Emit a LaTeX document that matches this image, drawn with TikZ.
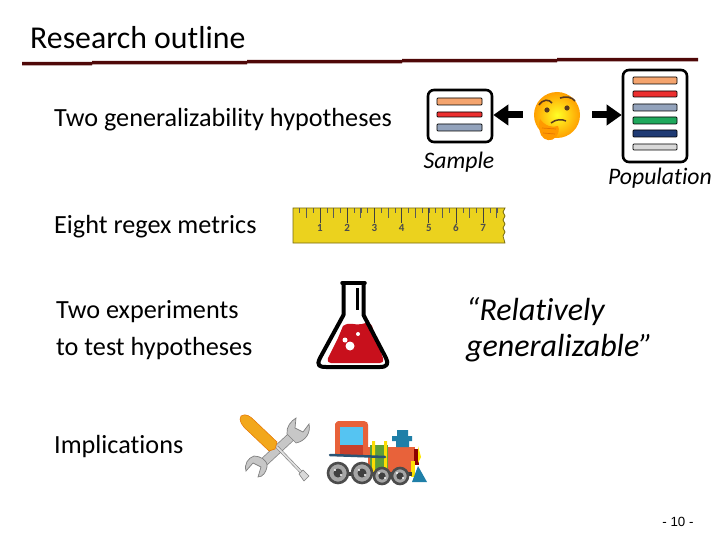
\documentclass[tikz,border=0pt]{standalone}
\usepackage{fontspec}
\setmainfont{Carlito}[Ligatures=CommonOff]
\newfontfamily\pagefont{Liberation Sans}
\usepackage{xcolor}
\usetikzlibrary{calc}
\usetikzlibrary{arrows.meta}
\definecolor{rulered}{HTML}{4F0808}
\definecolor{barorange}{HTML}{F4A46E}
\definecolor{barred}{HTML}{EC2F2F}
\definecolor{bargrey}{HTML}{93A3BC}
\definecolor{bargreen}{HTML}{1FA85C}
\definecolor{barblue}{HTML}{1F3A73}
\definecolor{barlight}{HTML}{D9D9D9}
\definecolor{rulergold}{HTML}{EBD21E}
\definecolor{flaskred}{HTML}{C8101C}
\definecolor{trainred}{HTML}{E8623A}
\definecolor{traindark}{HTML}{C9402C}
\definecolor{trainglass}{HTML}{55C4F2}
\definecolor{traingreen}{HTML}{5E9E3C}
\definecolor{trainteal}{HTML}{1F7FA8}
\definecolor{trainpipe}{HTML}{2A5474}
\definecolor{handleyellow}{HTML}{F2A71B}
\definecolor{facebrown}{HTML}{5A3A1E}
\tikzset{
	outline/.style={anchor=west,inner sep=0pt,font=\fontsize{26.2}{26}\selectfont},
	quoted/.style={anchor=west,inner sep=0pt,font=\itshape\fontsize{32}{32}\selectfont},
	caption/.style={inner sep=0pt,font=\itshape\fontsize{23.7}{24}\selectfont},
	listbox/.style={draw,line width=2.6pt,rounded corners=6pt,fill=white},
	listbar/.style={draw=black,line width=0.7pt,rounded corners=0.8pt},
	fatarrow/.style={-{Triangle[length=15pt,width=20pt]},line width=7pt},
	rulerdigit/.style={inner sep=0pt,font=\bfseries\fontsize{11}{11}\selectfont,text=black!70},
}
\begin{document}
\begin{tikzpicture}[x=1pt,y=-1pt]
	\useasboundingbox (0,0) rectangle (720,540);
	\node[anchor=west,inner sep=0pt,font=\fontsize{31.8}{32}\selectfont] (title) at (30,38) {Research outline};
	\fill[rulered] (22,62) -- (92,62) -- (92,61) -- (247,61) -- (247,60) -- (402,60) -- (402,59) -- (557,59) -- (557,58) -- (698,58) -- (698,61.5) -- (557,61.5) -- (557,62.5) -- (402,62.5) -- (402,63.5) -- (247,63.5) -- (247,64.5) -- (92,64.5) -- (92,65.5) -- (22,65.5) -- cycle;
	\node[outline] (hypotheses) at (54,119.5) {Two generalizability hypotheses};
	\node[outline] (metrics) at (54,226.5) {Eight regex metrics};
	\node[outline] (experiments) at (56,311.5) {Two experiments};
	\node[outline] (totest) at (56,348.5) {to test hypotheses};
	\node[outline] (implications) at (54,446.5) {Implications};
	\node[quoted] (relatively) at (466,311.5) {“Relatively};
	\node[quoted] (generalizable) at (466,348.5) {generalizable”};
	\node[caption] (sample) at (459,162) {Sample};
	\node[caption] (population) at (660,178) {Population};
	\node[inner sep=0pt,font=\pagefont\fontsize{13.3}{13}\selectfont] (pagenum) at (678,522) {- 10 -};
	\node[listbox,minimum width=64pt,minimum height=52pt] (samplebox) at (460,116) {};
	\node[listbox,minimum width=64pt,minimum height=92pt] (populationbox) at (655,116) {};
	\node[minimum width=69pt,minimum height=50pt,inner sep=0pt] (thinking) at (557.5,115) {};
	\draw[fatarrow] (thinking.west) -- (thinking.west -| samplebox.east);
	\draw[fatarrow] (thinking.east) -- (thinking.east -| populationbox.west);
	\foreach \ya/\yb/\col in {98/105/barorange,112/117/barred,124/131/bargrey}
		\draw[listbar,fill=\col] (437,\ya) rectangle (482,\yb);
	\foreach \ya/\yb/\col in {77/84/barorange,91/97/barred,104/111/bargrey,117/124/bargreen,130/137/barblue,144/150/barlight}
		\draw[listbar,fill=\col] (633,\ya) rectangle (677,\yb);
	% thinking face
	\shade[inner color=yellow!85!white,outer color=orange!75!yellow] (557,115) circle[radius=23pt];
	\draw[line width=1.6pt,facebrown] (539,105) .. controls (543,99) and (549,99) .. (552,103);
	\draw[line width=1.6pt,facebrown] (560,98) .. controls (566,96) and (572,97) .. (575,101);
	\fill[facebrown] (547,110) circle[radius=2.6pt] (567,108) circle[radius=2.6pt];
	\draw[line width=1.5pt,facebrown] (551,123) .. controls (556,119) and (562,119) .. (566,121);
	\fill[orange!80!yellow] (540,119) .. controls (545,126) and (552,128) .. (558,126) .. controls (560,130) and (558,134) .. (556,137) .. controls (552,142) and (544,141) .. (541,135) .. controls (539,130) and (538,124) .. (540,119) -- cycle;
	\draw[orange!90!black,line width=0.7pt] (542,128) -- (556,129) (543,133) -- (555,134);
	% ruler
	\fill[rulergold,draw=black!50!rulergold,line width=0.7pt] (293,208) -- (505,208) -- (503,212) -- (505,216) -- (503,220) -- (505,224) -- (503,228) -- (505,232) -- (503,236) -- (505,243) -- (293,243) -- cycle;
	\foreach \n in {-3,...,26}
		\draw[black!65,line width=0.6pt] ({320+6.8*\n},208) -- ++(0,5);
	\foreach \n in {-1,...,13}
		\draw[black!65,line width=0.7pt] ({320+13.6*\n},208) -- ++(0,10);
	\foreach \n [count=\i from 0] in {1,...,7} {
		\draw[black!75,line width=0.8pt] ({320+27.2*\i},208) -- ++(0,15);
		\node[rulerdigit] (digit\n) at ({320+27.2*\i},228) {\n};
	}
	% flask
	\fill[flaskred] (328,358) -- (338,338) -- (343,326) .. controls (350,321) and (355,326) .. (362,324) .. controls (367,322) and (371,323) .. (372,326) -- (383,358) .. controls (384,362) and (382,363) .. (380,363) -- (331,363) .. controls (329,363) and (327,362) .. (328,358) -- cycle;
	\draw[line width=4pt,line join=round] (343.5,284) -- (343.5,315) -- (320,358) .. controls (316,366) and (320,367) .. (326,367) -- (380,367) .. controls (387,367) and (389,364) .. (386,358) -- (363.5,315) -- (363.5,284);
	\draw[line width=3.5pt,line cap=round] (342,283) -- (365,283);
	\draw[line width=2.4pt] (357.5,288) -- (357.5,310);
	\fill[white] (350,346) circle[radius=4.5pt] (345,340) circle[radius=2.5pt] (358,334) circle[radius=2pt];
	% wrench
	\draw[line width=9pt,black!50] (263,463) -- (292,436);
	\draw[line width=7.5pt,black!22] (263,463) -- (292,436);
	\draw[draw=black!50,fill=black!22,line width=0.7pt] (287,434) .. controls (286,427) and (291,421) .. (296,418) -- (295,428) -- (303,432) -- (309,424) .. controls (311,432) and (306,441) .. (296,443) -- cycle;
	\draw[draw=black!50,fill=black!22,line width=0.7pt] (267,467) .. controls (268,460) and (260,456) .. (254,456) .. controls (248,458) and (244,464) .. (246,471) -- (253,463) -- (261,467) -- (258,477) .. controls (263,477) and (266,472) .. (267,467) -- cycle;
	% screwdriver
	\draw[line width=3pt,black!50] (277,447) -- (302,473);
	\draw[line width=1.8pt,black!12] (277,447) -- (302,473);
	\draw[draw=black!50,fill=black!15,line width=0.6pt] (299,474) -- (303,470) -- (309,476) -- (304,481) -- cycle;
	\fill[handleyellow,draw=orange!90!black,line width=0.5pt] (241,416) .. controls (246,413) and (250,416) .. (255,421) -- (277,442) -- (275,449) -- (269,451) -- (248,431) .. controls (242,426) and (238,420) .. (241,416) -- cycle;
	% train
	\fill[trainred] (335,424) .. controls (336,421) and (338,421) .. (340,421) -- (364,421) .. controls (367,421) and (368,423) .. (368,425) -- (368,456) -- (335,456) -- cycle;
	\fill[trainglass] (340,427) rectangle (363,445);
	\fill[traindark] (340,445) rectangle (363,455);
	\fill[trainred] (368,447) rectangle (415,473);
	\fill[traingreen] (370,445) rectangle (388,473);
	\fill[yellow!80!orange] (372,441) rectangle (375,473) (384,441) rectangle (387,473);
	\fill[red!55!black] (414,449) rectangle (419,465);
	\fill[yellow!90!orange] (418,446) -- (421,457) -- (418,463) -- cycle;
	\fill[trainteal] (397,430) rectangle (408,439) (392,436) rectangle (412,441) (396,441) rectangle (409,447);
	\draw[line width=2.5pt,trainpipe,line cap=round] (330,455) -- (385,457);
	\fill[yellow!85!orange] (411,461) rectangle (415,477);
	\fill[trainteal] (412,482) -- (418,466) -- (427,482) -- cycle;
	\fill[black!75] (335,472) rectangle (412,476);
	\foreach \cx/\cy/\rad in {338/473/10,362/473/10,382/476/8,400/476/8} {
		\draw[black!70,line width=2.6pt,fill=black!35] (\cx,\cy) circle[radius=\rad pt];
		\fill[black!75] (\cx,\cy) circle[radius=0.45*\rad pt];
		\fill[white] (\cx-3,\cy-3) circle[radius=1.2pt] (\cx+3,\cy+2) circle[radius=1.2pt];
	}
\end{tikzpicture}
\end{document}
